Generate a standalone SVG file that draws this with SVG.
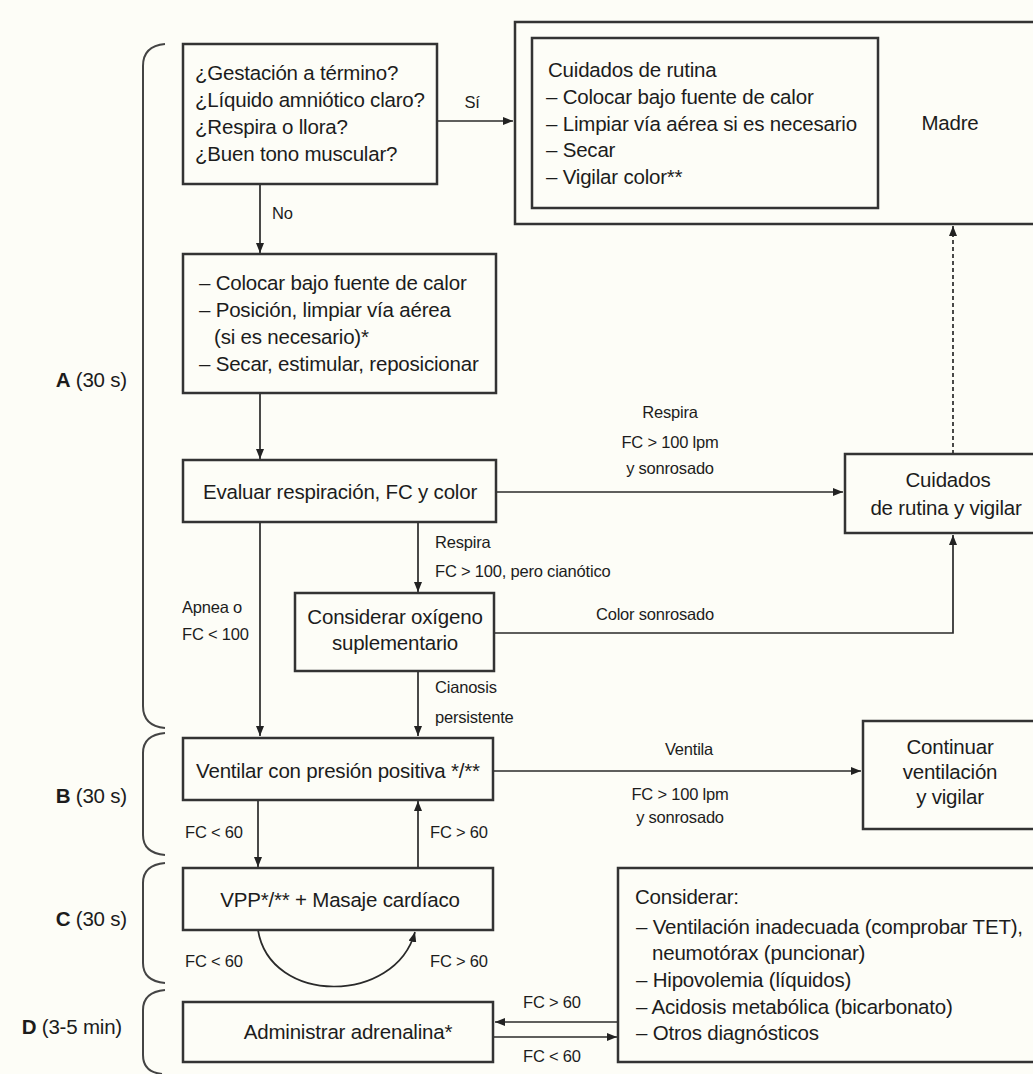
<svg xmlns="http://www.w3.org/2000/svg" width="1033" height="1074" viewBox="0 0 1033 1074">
<style>
text{font-family:"Liberation Sans",Arial,sans-serif;fill:#1c1c1c}
.t{font-size:20.5px;letter-spacing:-0.2px}
.s{font-size:16.5px;letter-spacing:-0.2px}
.m{text-anchor:middle}
.e{text-anchor:end}
.box{fill:none;stroke:#333;stroke-width:2.5}
.ln{fill:none;stroke:#2a2a2a;stroke-width:1.7}
.br{fill:none;stroke:#444;stroke-width:2}
.b{font-weight:bold}
</style>
<defs>
<marker id="ah" viewBox="0 0 10 8" refX="10" refY="4" markerWidth="10" markerHeight="8" markerUnits="userSpaceOnUse" orient="auto">
<path d="M0,0 L10,4 L0,8 z" fill="#222"/>
</marker>
</defs>
<rect x="0" y="0" width="1033" height="1074" fill="#fdfdf7"/>

<g id="braces">
<path class="br" d="M165,44 Q143,46 143,66 L143,706 Q143,726 165,728"/>
<path class="br" d="M165,733 Q143,735 143,753 L143,835 Q143,853 165,855"/>
<path class="br" d="M165,863 Q143,865 143,883 L143,963 Q143,981 165,983"/>
<path class="br" d="M165,990 Q143,992 143,1010 L143,1055 Q143,1072 162,1074"/>
<text class="t e" x="127" y="387"><tspan class="b">A</tspan> (30 s)</text>
<text class="t e" x="127" y="803"><tspan class="b">B</tspan> (30 s)</text>
<text class="t e" x="127" y="926"><tspan class="b">C</tspan> (30 s)</text>
<text class="t e" x="122" y="1034"><tspan class="b">D</tspan> (3-5 min)</text>
</g>

<g id="connectors">
<path class="ln" d="M437,121 L513,121" marker-end="url(#ah)"/>
<path class="ln" d="M260,184 L260,253" marker-end="url(#ah)"/>
<path class="ln" d="M260,393 L260,459" marker-end="url(#ah)"/>
<path class="ln" d="M496,492 L843,492" marker-end="url(#ah)"/>
<path class="ln" d="M953,454 L953,226" stroke-dasharray="4 3" marker-end="url(#ah)"/>
<path class="ln" d="M418,522 L418,592" marker-end="url(#ah)"/>
<path class="ln" d="M260,522 L260,736" marker-end="url(#ah)"/>
<path class="ln" d="M418,671 L418,736" marker-end="url(#ah)"/>
<path class="ln" d="M494,633 L953,633 L953,535" marker-end="url(#ah)"/>
<path class="ln" d="M493,771 L861,771" marker-end="url(#ah)"/>
<path class="ln" d="M258,800 L258,867" marker-end="url(#ah)"/>
<path class="ln" d="M418,868 L418,801" marker-end="url(#ah)"/>
<path class="ln" d="M258,930 C270,1005 395,1005 415,932" marker-end="url(#ah)"/>
<path class="ln" d="M618,1022 L495,1022" marker-end="url(#ah)"/>
<path class="ln" d="M493,1037 L617,1037" marker-end="url(#ah)"/>
<text class="s m" x="472" y="108">Sí</text>
<text class="s" x="272" y="219">No</text>
<text class="s m" x="670" y="418">Respira</text>
<text class="s m" x="670" y="448">FC &gt; 100 lpm</text>
<text class="s m" x="670" y="474">y sonrosado</text>
<text class="s" x="435" y="548">Respira</text>
<text class="s" x="435" y="577">FC &gt; 100, pero cianótico</text>
<text class="s" x="182" y="613">Apnea o</text>
<text class="s" x="182" y="640">FC &lt; 100</text>
<text class="s m" x="655" y="620">Color sonrosado</text>
<text class="s" x="435" y="693">Cianosis</text>
<text class="s" x="435" y="723">persistente</text>
<text class="s m" x="689" y="755">Ventila</text>
<text class="s m" x="680" y="800">FC &gt; 100 lpm</text>
<text class="s m" x="680" y="823">y sonrosado</text>
<text class="s" x="185" y="838">FC &lt; 60</text>
<text class="s" x="430" y="838">FC &gt; 60</text>
<text class="s" x="185" y="967">FC &lt; 60</text>
<text class="s" x="430" y="967">FC &gt; 60</text>
<text class="s" x="523" y="1008">FC &gt; 60</text>
<text class="s" x="523" y="1062">FC &lt; 60</text>
</g>

<g id="n-preguntas">
<rect class="box" x="183" y="44" width="254" height="140"/>
<text class="t" x="195" y="80">¿Gestación a término?</text>
<text class="t" x="195" y="107">¿Líquido amniótico claro?</text>
<text class="t" x="195" y="134">¿Respira o llora?</text>
<text class="t" x="195" y="161">¿Buen tono muscular?</text>
</g>

<g id="n-madre">
<rect class="box" x="515" y="22" width="530" height="202"/>
<text class="t m" x="950" y="130">Madre</text>
</g>

<g id="n-rutina">
<rect class="box" x="532" y="38" width="346" height="170"/>
<text class="t" x="548" y="77">Cuidados de rutina</text>
<text class="t" x="546" y="104">– Colocar bajo fuente de calor</text>
<text class="t" x="546" y="131">– Limpiar vía aérea si es necesario</text>
<text class="t" x="546" y="157">– Secar</text>
<text class="t" x="546" y="184">– Vigilar color**</text>
</g>

<g id="n-calor">
<rect class="box" x="183" y="254" width="313" height="139"/>
<text class="t" x="199" y="290">– Colocar bajo fuente de calor</text>
<text class="t" x="199" y="317">– Posición, limpiar vía aérea</text>
<text class="t" x="214" y="344">(si es necesario)*</text>
<text class="t" x="199" y="371">– Secar, estimular, reposicionar</text>
</g>

<g id="n-evaluar">
<rect class="box" x="183" y="460" width="313" height="62"/>
<text class="t m" x="340" y="499">Evaluar respiración, FC y color</text>
</g>

<g id="n-cuidados-vigilar">
<rect class="box" x="845" y="454" width="200" height="79"/>
<text class="t m" x="948" y="487">Cuidados</text>
<text class="t m" x="946" y="515">de rutina y vigilar</text>
</g>

<g id="n-oxigeno">
<rect class="box" x="295" y="593" width="199" height="78"/>
<text class="t m" x="395" y="624">Considerar oxígeno</text>
<text class="t m" x="395" y="650">suplementario</text>
</g>

<g id="n-ventilar">
<rect class="box" x="183" y="738" width="310" height="62"/>
<text class="t m" x="338" y="778">Ventilar con presión positiva */**</text>
</g>

<g id="n-continuar">
<rect class="box" x="863" y="721" width="180" height="108"/>
<text class="t m" x="950" y="754">Continuar</text>
<text class="t m" x="950" y="779">ventilación</text>
<text class="t m" x="950" y="804">y vigilar</text>
</g>

<g id="n-vpp">
<rect class="box" x="183" y="868" width="310" height="62"/>
<text class="t m" x="340" y="907">VPP*/** + Masaje cardíaco</text>
</g>

<g id="n-adrenalina">
<rect class="box" x="183" y="1002" width="310" height="60"/>
<text class="t m" x="348" y="1039">Administrar adrenalina*</text>
</g>

<g id="n-considerar">
<rect class="box" x="618" y="868" width="425" height="194"/>
<text class="t" x="635" y="904">Considerar:</text>
<text class="t" x="636" y="934">– Ventilación inadecuada (comprobar TET),</text>
<text class="t" x="652" y="960">neumotórax (puncionar)</text>
<text class="t" x="636" y="987">– Hipovolemia (líquidos)</text>
<text class="t" x="636" y="1014">– Acidosis metabólica (bicarbonato)</text>
<text class="t" x="636" y="1040">– Otros diagnósticos</text>
</g>
</svg>
